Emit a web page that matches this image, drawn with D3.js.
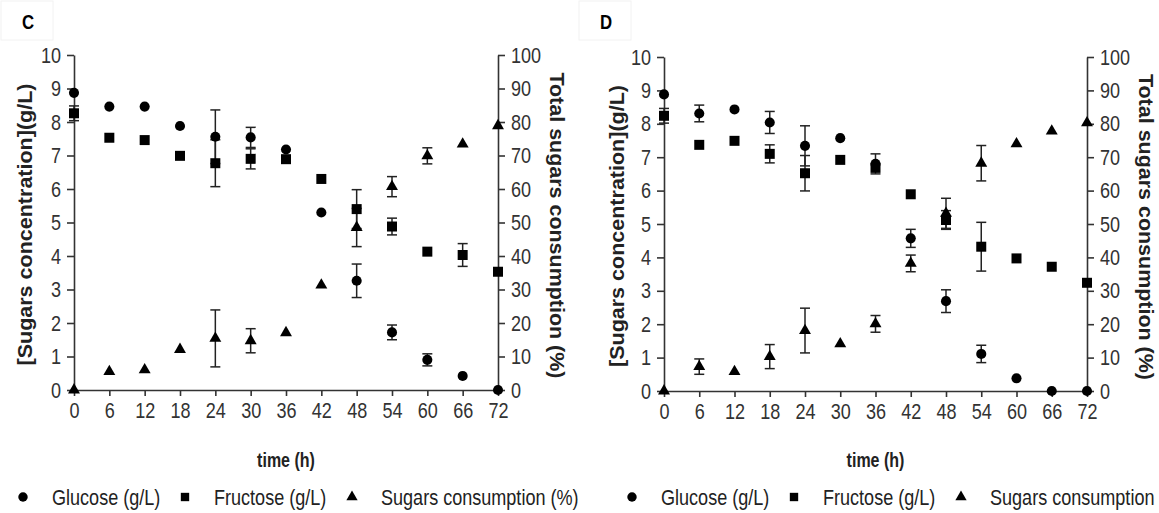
<!DOCTYPE html>
<html>
  <head>
    <meta charset="utf-8">
    <title>Sugars consumption C / D</title>
    <style>
      body { margin: 0; background: #fff; }
      .tick text { font-family: "Liberation Sans", Arial, sans-serif; font-size: 22px; fill: #333; }
      .tick line, .domain { stroke: #333; stroke-width: 1.6; }
    </style>
  </head>
  <body>
    <svg id="chart" width="1159" height="513"></svg>
    <script src="https://d3js.org/d3.v7.min.js"></script>
    <script>
      // sampling times (h)
      hours = [0, 6, 12, 18, 24, 30, 36, 42, 48, 54, 60, 66, 72]
      concTicks = [0, 1, 2, 3, 4, 5, 6, 7, 8, 9, 10]
      pctTicks = [0, 10, 20, 30, 40, 50, 60, 70, 80, 90, 100]

      // panel C
      glucoseC     = [8.87, 8.46, 8.46, 7.88, 7.56, 7.54, 7.18, 5.30, 3.26, 1.72, 0.90, 0.42, 0]
      glucoseCErr  = [0, 0, 0, 0, 0.80, 0.30, 0, 0, 0.50, 0.22, 0.18, 0, 0]
      fructoseC    = [8.26, 7.53, 7.46, 6.99, 6.77, 6.90, 6.89, 6.30, 5.40, 4.88, 4.13, 4.03, 3.53]
      fructoseCErr = [0.22, 0, 0, 0, 0.70, 0.30, 0, 0, 0.58, 0.25, 0, 0.34, 0]
      consumC      = [0, 5.5, 6.0, 12.1, 15.4, 14.7, 17.1, 31.3, 48.5, 60.7, 69.9, 73.4, 78.9]
      consumCErr   = [0, 0, 0, 0, 8.5, 3.6, 0, 0, 5.7, 3.0, 2.4, 0, 0]

      // panel D
      glucoseD     = [8.88, 8.31, 8.43, 8.04, 7.34, 7.57, 6.80, 4.57, 2.69, 1.11, 0.38, 0, 0]
      glucoseDErr  = [0, 0.25, 0, 0.33, 0.60, 0, 0.30, 0.27, 0.34, 0.26, 0, 0, 0]
      fructoseD    = [8.24, 7.37, 7.49, 7.10, 6.52, 6.92, 6.68, 5.89, 5.12, 4.32, 3.97, 3.72, 3.24]
      fructoseDErr = [0.22, 0, 0, 0.27, 0.53, 0, 0, 0, 0.28, 0.73, 0, 0, 0]
      consumD      = [0, 7.3, 5.8, 10.3, 18.1, 14.1, 20.1, 38.2, 53.2, 68.2, 74.0, 77.8, 80.3]
      consumDErr   = [0, 2.3, 0, 3.6, 6.7, 0, 2.5, 2.5, 4.5, 5.3, 0, 0, 0]

      legendLabels = ['Glucose (g/L)', 'Fructose (g/L)', 'Sugars consumption (%)']

      font = '"Liberation Sans", Arial, sans-serif'

      const svg = d3.select('#chart')

      const circle = d3.symbol(d3.symbolCircle, 80)()
      const square = d3.symbol(d3.symbolSquare, 100)()
      const triangle = d3.symbol(d3.symbolTriangle, 62)()

      // no narrow font installed, so squeeze the text horizontally
      function squeeze(sel, k) {
        sel.each(function() {
          const w = this.getComputedTextLength()
          d3.select(this).attr('textLength', w * k).attr('lengthAdjust', 'spacingAndGlyphs')
        })
      }

      function panel(p) {
        const g = svg.append('g')

        // label box
        g.append('rect')
          .attr('x', p.boxX).attr('y', 1).attr('width', 52).attr('height', 39)
          .attr('fill', '#fff').attr('stroke', '#f2f2f2')
        g.append('text')
          .attr('x', p.boxX + 27).attr('y', 29)
          .attr('text-anchor', 'middle')
          .style('font-family', font).style('font-weight', 'bold').style('font-size', '21px')
          .text(p.letter)
          .call(squeeze, 0.8)

        const x = d3.scaleLinear().domain([0, 72]).range([p.left, p.right])
        const y = d3.scaleLinear().domain([0, 10]).range([p.bottom, p.top])
        const y2 = d3.scaleLinear().domain([0, 100]).range([p.bottom, p.top])

        g.append('g')
          .attr('transform', `translate(0,${ p.bottom })`)
          .call(d3.axisBottom(x).tickValues(hours).tickSize(6).tickPadding(6).tickSizeOuter(0))
        g.append('g')
          .attr('transform', `translate(${ p.left },0)`)
          .call(d3.axisLeft(y).tickValues(concTicks).tickSize(7).tickPadding(6).tickSizeOuter(0))
        g.append('g')
          .attr('transform', `translate(${ p.right },0)`)
          .call(d3.axisRight(y2).tickValues(pctTicks).tickSize(7).tickPadding(6).tickSizeOuter(0))
        g.selectAll('.tick text').call(squeeze, 0.82)

        // axis titles
        g.append('text')
          .attr('transform', `translate(${ p.left - p.titleGap },${ (p.top + p.bottom) / 2 + 2 }) rotate(-90)`)
          .attr('text-anchor', 'middle')
          .attr('textLength', 282).attr('lengthAdjust', 'spacingAndGlyphs')
          .style('font-family', font).style('font-weight', 'bold').style('font-size', '20px').style('fill', '#222')
          .text('[Sugars concentration](g/L)')
        g.append('text')
          .attr('transform', `translate(${ p.right + 52 },${ (p.top + p.bottom) / 2 + 3 }) rotate(90)`)
          .attr('text-anchor', 'middle')
          .attr('textLength', 306).attr('lengthAdjust', 'spacingAndGlyphs')
          .style('font-family', font).style('font-weight', 'bold').style('font-size', '20px').style('fill', '#222')
          .text('Total sugars consumption (%)')
        g.append('text')
          .attr('x', (p.left + p.right) / 2).attr('y', 467)
          .attr('text-anchor', 'middle')
          .style('font-family', font).style('font-weight', 'bold').style('font-size', '20px').style('fill', '#222')
          .text('time (h)')
          .call(squeeze, 0.8)

        const series = [
          { vals: p.glucose, err: p.glucoseErr, scale: y, shape: circle },
          { vals: p.fructose, err: p.fructoseErr, scale: y, shape: square },
          { vals: p.consum, err: p.consumErr, scale: y2, shape: triangle }
        ]

        series.forEach(s => {
          const pts = hours.map((h, i) => ({ h, v: s.vals[i], e: s.err[i] }))
          const eb = g.append('g').attr('stroke', '#222').attr('stroke-width', 1.5)
          pts.filter(d => d.e > 0).forEach(d => {
            const cx = x(d.h), lo = s.scale(d.v - d.e), hi = s.scale(d.v + d.e)
            eb.append('line').attr('x1', cx).attr('x2', cx).attr('y1', lo).attr('y2', hi)
            eb.append('line').attr('x1', cx - 5).attr('x2', cx + 5).attr('y1', lo).attr('y2', lo)
            eb.append('line').attr('x1', cx - 5).attr('x2', cx + 5).attr('y1', hi).attr('y2', hi)
          })
        })
        series.forEach(s => {
          g.append('g').selectAll('path')
            .data(hours.map((h, i) => ({ h, v: s.vals[i] })))
            .join('path')
              .attr('d', s.shape)
              .attr('transform', d => `translate(${ x(d.h) },${ s.scale(d.v) })`)
              .attr('fill', '#000')
        })

        // legend
        const lg = g.append('g').attr('transform', `translate(${ p.legendX },497)`)
        const syms = [d3.symbolCircle, d3.symbolSquare, d3.symbolTriangle]
        const offs = [0, 162, 329]
        legendLabels.forEach((lab, i) => {
          lg.append('path').attr('d', d3.symbol(syms[i], i == 2 ? 55 : 70)())
            .attr('transform', `translate(${ offs[i] },0)`).attr('fill', '#000')
          lg.append('text')
            .attr('x', offs[i] + 29).attr('y', 8)
            .style('font-family', font).style('font-size', '22px').style('fill', '#222')
            .text(lab)
            .call(squeeze, 0.82)
        })
      }

      panel({
        letter: 'C', boxX: 1, left: 74, right: 498, top: 55, bottom: 390, legendX: 23, titleGap: 42,
        glucose: glucoseC, glucoseErr: glucoseCErr, fructose: fructoseC, fructoseErr: fructoseCErr,
        consum: consumC, consumErr: consumCErr
      })
      panel({
        letter: 'D', boxX: 579, left: 664, right: 1087, top: 57, bottom: 391, legendX: 632, titleGap: 40,
        glucose: glucoseD, glucoseErr: glucoseDErr, fructose: fructoseD, fructoseErr: fructoseDErr,
        consum: consumD, consumErr: consumDErr
      })
    </script>
  </body>
</html>
